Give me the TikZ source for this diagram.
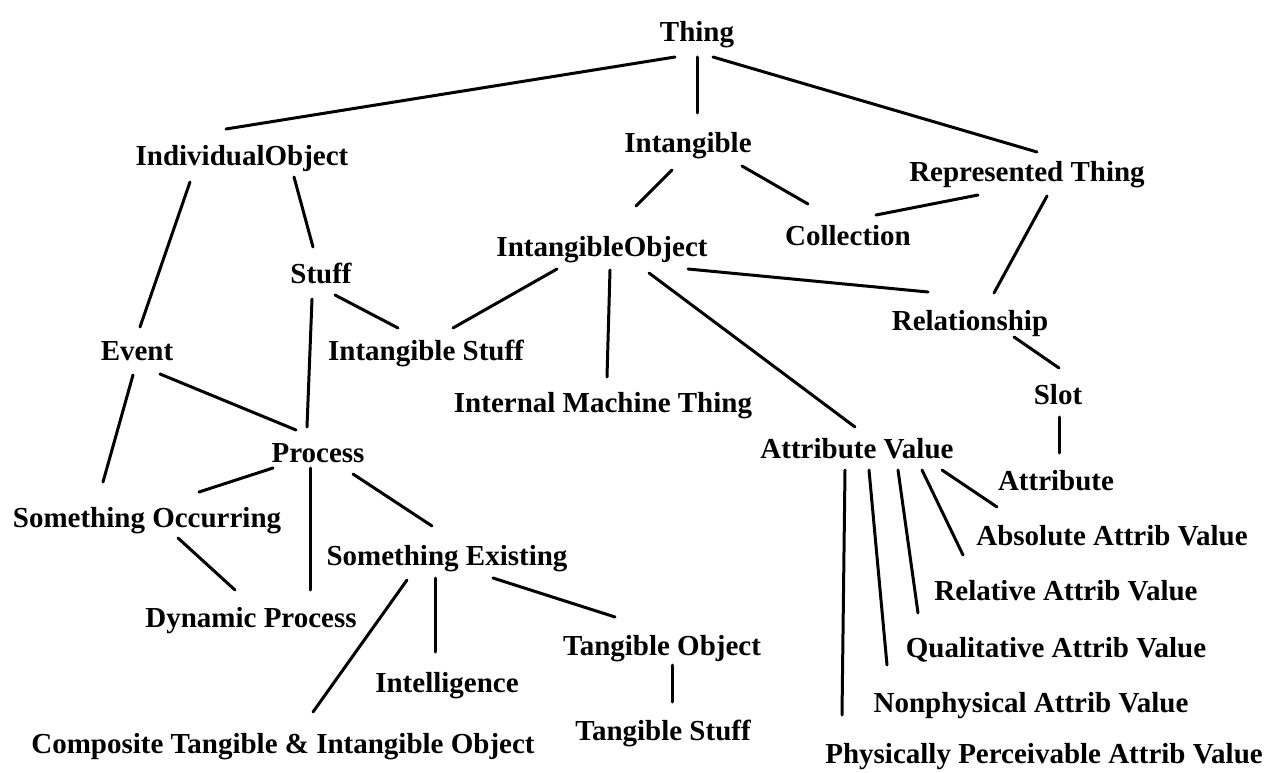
\documentclass[tikz,border=0pt]{standalone}
\usepackage{fontspec}
\setmainfont{Liberation Serif}
\usepackage{tikz}
\usetikzlibrary{calc}
\tikzset{
  term/.style={
    anchor=base,
    inner sep=0pt,
    font=\fontsize{29}{31}\selectfont\bfseries
  },
  every edge/.style={
    draw=black,
    line width=3pt,
    line cap=round
  }
}

\begin{document}
\begin{tikzpicture}[x=1pt, y=-1pt]
  \useasboundingbox (0,0) rectangle (1275,773);
  % top levels
  \node[term] (Thing) at (697,42) {Thing};
  \node[term] (IndObj) at (242,165) {IndividualObject};
  \node[term] (Intang) at (688,153) {Intangible};
  \node[term] (RepThing) at (1027,182) {Represented Thing};
  \node[term] (Coll) at (848,245) {Collection};
  \node[term] (IntObj) at (602,256) {IntangibleObject};
  \node[term] (Stuff) at (321,283) {Stuff};
  \node[term] (Rel) at (970,330) {Relationship};
  \node[term] (Event) at (137,360) {Event};
  \node[term] (IntStuff) at (426,360) {Intangible Stuff};
  \node[term] (IMT) at (603,412) {Internal Machine Thing};
  \node[term] (Slot) at (1058,404) {Slot};
  \node[term] (Process) at (318,462) {Process};
  \node[term] (AttrVal) at (857,458) {Attribute Value};
  \node[term] (Attr) at (1056,490) {Attribute};
  \node[term] (SomeOcc) at (147,527) {Something Occurring};
  \node[term] (SomeEx) at (447,565) {Something Existing};
  \node[term] (DynProc) at (251,627) {Dynamic Process};
  \node[term] (TangObj) at (662,655) {Tangible Object};
  \node[term] (Intel) at (447,692) {Intelligence};
  \node[term] (TangStuff) at (663,740) {Tangible Stuff};
  \node[term] (Compo) at (283,753) {Composite Tangible \& Intangible Object};
  % attribute values
  \node[term] (AbsVal) at (1112,545) {Absolute Attrib Value};
  \node[term] (RelVal) at (1066,600) {Relative Attrib Value};
  \node[term] (QualVal) at (1056,657) {Qualitative Attrib Value};
  \node[term] (NonVal) at (1031,712) {Nonphysical Attrib Value};
  \node[term] (PhysVal) at (1044,763) {Physically Perceivable Attrib Value};

  \path ($(Thing.base)+(-22,15)$) edge ($(IndObj.base)+(-16,-36)$)
        ($(Thing.base)+(0,15)$) edge ($(Intang.base)+(9,-40)$)
        ($(Thing.base)+(16,15)$) edge ($(RepThing.base)+(10,-30)$)
        ($(IndObj.base)+(-52,17)$) edge ($(Event.base)+(3,-33)$)
        ($(IndObj.base)+(52,12)$) edge ($(Stuff.base)+(-8,-36)$)
        ($(Intang.base)+(-16,17)$) edge ($(IntObj.base)+(34,-50)$)
        ($(Intang.base)+(54,13)$) edge ($(Coll.base)+(-40,-41)$)
        ($(RepThing.base)+(-49,13)$) edge ($(Coll.base)+(28,-30)$)
        ($(RepThing.base)+(20,14)$) edge ($(Rel.base)+(24,-37)$)
        ($(IntObj.base)+(-45,13)$) edge ($(IntStuff.base)+(27,-32)$)
        ($(IntObj.base)+(8,14)$) edge ($(IMT.base)+(4,-35)$)
        ($(IntObj.base)+(47,17)$) edge ($(AttrVal.base)+(-2,-31)$)
        ($(IntObj.base)+(86,13)$) edge ($(Rel.base)+(-42,-38)$)
        ($(Stuff.base)+(14,12)$) edge ($(IntStuff.base)+(-28,-32)$)
        ($(Stuff.base)+(-9,16)$) edge ($(Process.base)+(-11,-35)$)
        ($(Rel.base)+(44,7)$) edge ($(Slot.base)+(1,-36)$)
        ($(Slot.base)+(1,13)$) edge ($(Attr.base)+(3,-37)$)
        ($(Event.base)+(23,14)$) edge ($(Process.base)+(-22,-32)$)
        ($(Event.base)+(-4,15)$) edge ($(SomeOcc.base)+(-44,-45)$)
        ($(Process.base)+(-45,6)$) edge ($(SomeOcc.base)+(52,-35)$)
        ($(Process.base)+(-8,6)$) edge ($(DynProc.base)+(59,-37)$)
        ($(Process.base)+(35,12)$) edge ($(SomeEx.base)+(-15,-39)$)
        ($(SomeOcc.base)+(31,11)$) edge ($(DynProc.base)+(-16,-37)$)
        ($(SomeEx.base)+(-40,15)$) edge ($(Compo.base)+(30,-41)$)
        ($(SomeEx.base)+(-12,13)$) edge ($(Intel.base)+(-12,-40)$)
        ($(SomeEx.base)+(46,13)$) edge ($(TangObj.base)+(-47,-38)$)
        ($(TangObj.base)+(10,10)$) edge ($(TangStuff.base)+(9,-38)$)
        ($(AttrVal.base)+(85,12)$) edge ($(AbsVal.base)+(-115,-38)$)
        ($(AttrVal.base)+(65,12)$) edge ($(RelVal.base)+(-103,-45)$)
        ($(AttrVal.base)+(41,12)$) edge ($(QualVal.base)+(-138,-44)$)
        ($(AttrVal.base)+(12,12)$) edge ($(NonVal.base)+(-144,-47)$)
        ($(AttrVal.base)+(-12,12)$) edge ($(PhysVal.base)+(-202,-48)$);
\end{tikzpicture}
\end{document}
